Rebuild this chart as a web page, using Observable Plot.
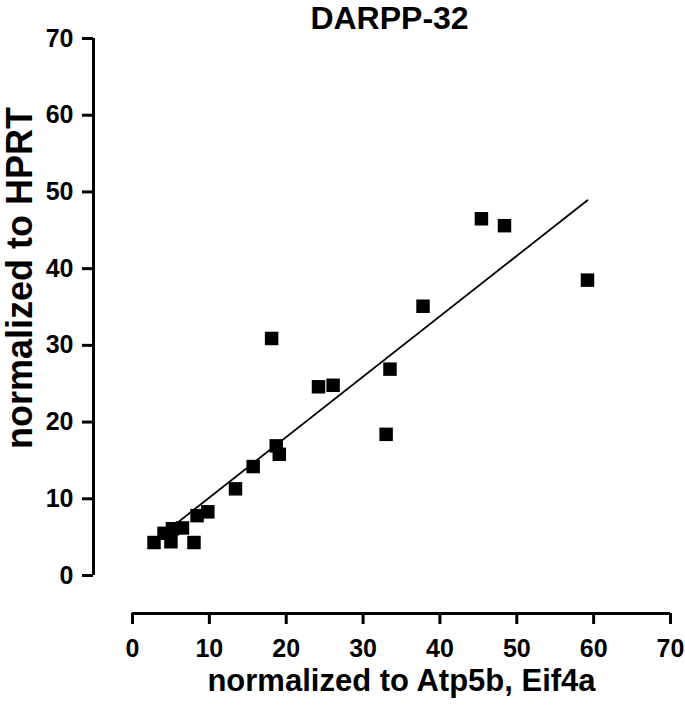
<!DOCTYPE html>
<html>
<head>
<meta charset="utf-8">
<script src="https://cdn.jsdelivr.net/npm/d3@7"></script>
<script src="https://cdn.jsdelivr.net/npm/@observablehq/plot@0.6"></script>
<style>
  html, body { margin: 0; padding: 0; background: #fff; }
  #chart svg { display: block; }
</style>
</head>
<body>
<div id="chart"></div>
<script>
const title = "DARPP-32";
const xLabel = "normalized to Atp5b, Eif4a";
const yLabel = "normalized to HPRT";
const xTicks = [0, 10, 20, 30, 40, 50, 60, 70];
const yTicks = [0, 10, 20, 30, 40, 50, 60, 70];
const xValues = [2.8, 4.1, 5.0, 5.2, 6.5, 8.0, 8.4, 9.8, 13.4, 15.7, 18.7, 19.1, 18.1, 24.2, 26.1, 33.0, 33.5, 37.8, 45.4, 48.4, 59.2];
const yValues = [4.3, 5.5, 4.4, 6.1, 6.2, 4.3, 7.8, 8.3, 11.3, 14.2, 16.9, 15.8, 30.9, 24.6, 24.8, 18.4, 26.9, 35.1, 46.5, 45.6, 38.5];

const data = xValues.map((x, i) => ({x, y: yValues[i]}));
const font = "'Liberation Sans', Arial, Helvetica, sans-serif";

const chart = Plot.plot({
  width: 685,
  height: 706,
  marginLeft: 132,
  marginRight: 15,
  marginTop: 38,
  marginBottom: 131,
  style: {fontFamily: font, color: "#000", background: "#fff", overflow: "visible"},
  x: {domain: [0, 70], ticks: xTicks},
  y: {domain: [0, 70], ticks: yTicks},
  marks: [
    Plot.ruleY([0], {dy: 38, stroke: "#000", strokeWidth: 3}),
    Plot.ruleX([0], {dx: -39, stroke: "#000", strokeWidth: 3}),
    Plot.axisX(xTicks, {anchor: "bottom", dy: 38, tickSize: 11, tickPadding: 15, strokeWidth: 3, fontSize: 25, fontWeight: "bold", label: null, fill: "#000"}),
    Plot.axisY(yTicks, {anchor: "left", dx: -39, tickSize: 11, tickPadding: 9, strokeWidth: 3, fontSize: 25, fontWeight: "bold", label: null, fill: "#000"}),
    Plot.linearRegressionY(data, {x: "x", y: "y", ci: 0, stroke: "#000", strokeWidth: 1.8}),
    Plot.dot(data, {x: "x", y: "y", symbol: "square", r: 7.6, fill: "#000", stroke: null}),
    Plot.text([title], {frameAnchor: "top", textAnchor: "middle", lineAnchor: "middle", dx: -12, dy: -19.5, fontSize: 32, fontWeight: "bold", fill: "#000"}),
    Plot.text([xLabel], {frameAnchor: "bottom", textAnchor: "middle", lineAnchor: "middle", dy: 106, fontSize: 31, fontWeight: "bold", fill: "#000"}),
    Plot.text([yLabel], {frameAnchor: "left", textAnchor: "middle", lineAnchor: "middle", rotate: -90, dx: -112.5, dy: -29, fontSize: 36, fontWeight: "bold", fill: "#000"})
  ]
});
document.getElementById("chart").appendChild(chart);
</script>
</body>
</html>
